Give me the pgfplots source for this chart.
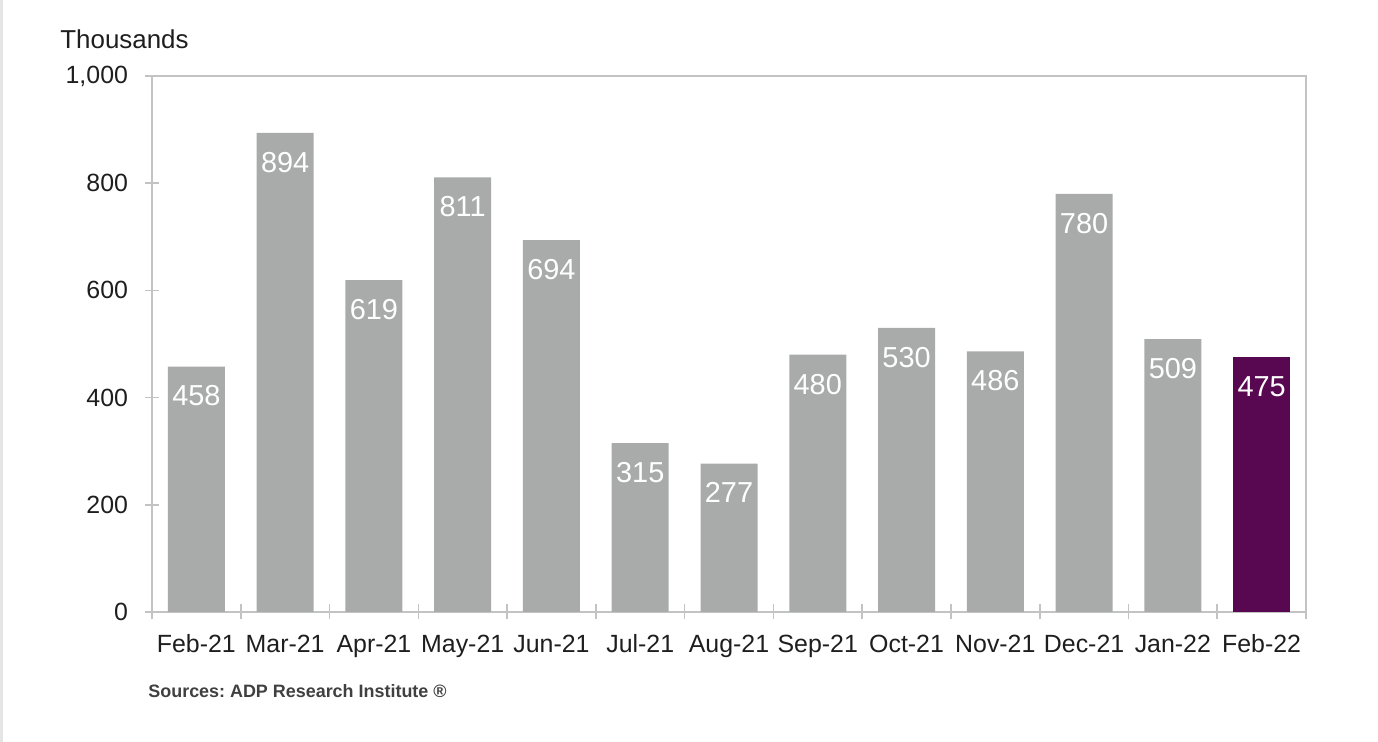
\documentclass[border=0pt]{standalone}
\usepackage{pgfplots}
\pgfplotsset{compat=1.18}
\usepackage{fontspec}
\setmainfont{Liberation Sans}
\frenchspacing

\definecolor{bargray}{RGB}{169,171,171}
\definecolor{adppurple}{RGB}{88,8,80}
\definecolor{framegray}{RGB}{195,195,195}
\definecolor{txt}{RGB}{30,30,30}

\begin{document}
\begin{tikzpicture}
  % page is 1378 x 742 px, 1 px = 0.5bp
  \useasboundingbox (0,0) rectangle (689bp,371bp);
  \fill[gray!20] (0,0) rectangle (1.5bp,371bp);

  \begin{axis}[
      at={(76bp,65bp)}, anchor=south west,
      scale only axis,
      width=577bp, height=268bp,
      ybar, bar width=28.5bp, bar shift=0pt,
      xmin=-0.5, xmax=12.5,
      ymin=0, ymax=1000,
      xtick={0,...,12},
      xticklabels={Feb-21,Mar-21,Apr-21,May-21,Jun-21,Jul-21,Aug-21,Sep-21,Oct-21,Nov-21,Dec-21,Jan-22,Feb-22},
      major x tick style={draw=none},
      minor xtick={-0.5,0.5,...,12.5},
      ytick={0,200,400,600,800,1000},
      xtick pos=bottom, ytick pos=left,
      tick align=center,
      major tick length=7bp, minor tick length=7.5bp,
      tick style={framegray, line width=0.8pt},
      axis line style={framegray, line width=0.8pt},
      /pgf/number format/assume math mode=true,
      /pgf/number format/1000 sep={,},
      ticklabel style={font=\fontsize{12.5}{14}\selectfont, text=txt},
      yticklabel style={xshift=-5bp},
      xticklabel style={yshift=-4bp, text height=9bp, text depth=2.5bp},
      nodes near coords,
      every node near coord/.append style={
        anchor=north, yshift=-9bp, inner sep=0pt,
        text height=10.5bp, text depth=0pt,
        font=\fontsize{14.5}{16}\selectfont, text=white},
    ]
    \addplot[fill=bargray, draw=none] coordinates {
      (0,458) (1,894) (2,619) (3,811) (4,694) (5,315)
      (6,277) (7,480) (8,530) (9,486) (10,780) (11,509)};
    \addplot[fill=adppurple, draw=none] coordinates {(12,475)};
  \end{axis}

  \node[anchor=base west, inner sep=0pt, text=txt, font=\fontsize{13}{15}\selectfont]
    at (30bp,346.5bp) {Thousands};
  \node[anchor=base west, inner sep=0pt, text=txt!85, font=\bfseries\fontsize{9}{11}\selectfont]
    at (74bp,22.5bp) {Sources: ADP Research Institute ®};
\end{tikzpicture}
\end{document}
